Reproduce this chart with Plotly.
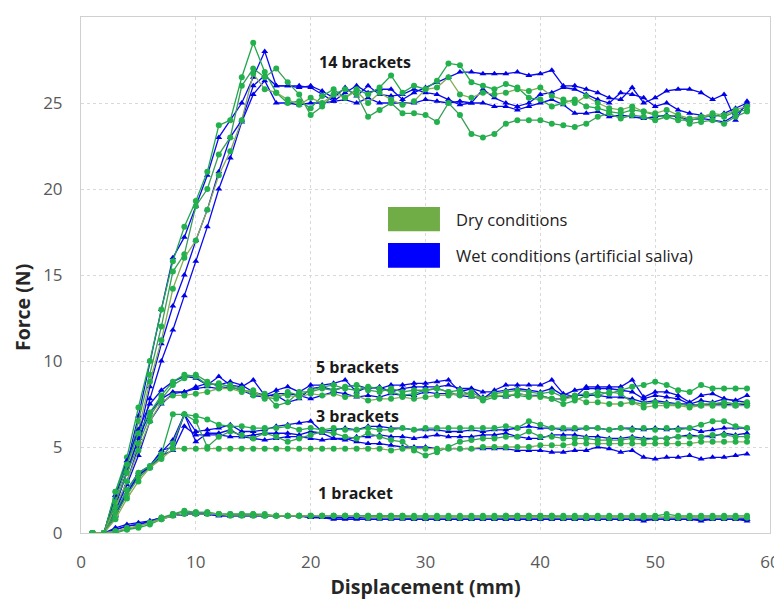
import plotly.graph_objects as go

displacement = list(range(1, 59))

# 14 brackets
dry_14 = [
    [0,0,2.4,4.4,7.3,10.0,13.0,15.8,17.8,19.3,21.0,23.7,24.0,26.5,28.5,26.8,25.6,25.0,25.1,24.7,25.4,25.8,25.3,25.8,25.5,25.9,26.6,25.6,26.0,25.8,26.3,27.3,27.2,26.2,26.0,25.8,26.1,25.9,25.3,25.2,24.8,25.0,25.2,24.8,24.7,24.5,24.4,24.6,24.5,24.3,24.2,24.0,24.0,24.1,24.3,24.2,24.5,24.6],
    [0,0,2.0,3.8,6.5,9.2,12.0,15.2,16.2,19.0,20.0,22.0,23.0,26.0,27.0,26.5,27.0,26.2,25.5,24.3,24.8,25.5,25.8,25.5,24.2,24.6,25.0,24.4,24.4,24.3,23.9,25.0,24.3,23.2,23.0,23.2,23.8,24.0,24.0,24.0,23.8,23.7,23.6,23.8,24.2,24.4,24.1,24.3,24.2,24.0,24.2,24.3,23.8,23.9,24.0,23.8,24.2,24.5],
    [0,0,1.8,3.5,6.0,8.8,11.2,14.2,16.0,17.0,18.8,20.8,22.2,24.0,26.7,25.8,25.6,25.2,24.9,25.3,25.0,25.5,25.3,25.7,25.0,25.6,25.2,24.9,25.1,25.8,25.9,26.5,25.5,25.3,25.6,25.5,25.6,25.8,25.7,25.9,25.4,25.2,25.0,25.4,25.0,24.7,24.6,24.8,24.5,24.4,24.6,24.3,24.1,24.2,24.4,24.3,24.6,24.8],
]
wet_14 = [
    [0,0,2.2,4.0,6.8,10.0,13.0,16.0,17.2,19.0,20.8,23.0,24.0,25.0,26.5,28.0,26.0,26.0,26.0,25.9,25.5,25.1,25.6,26.0,25.6,25.8,25.8,25.2,25.6,25.9,26.2,26.5,26.8,26.8,26.7,26.7,26.7,26.8,26.6,26.7,26.9,26.0,26.0,25.8,25.6,25.3,25.2,25.9,25.0,25.3,25.7,25.8,25.8,25.6,25.2,25.5,24.0,25.1],
    [0,0,1.6,3.5,5.5,8.5,11.0,13.2,15.0,17.0,18.8,21.0,23.0,24.0,26.0,26.6,26.0,26.0,25.9,26.0,25.7,25.3,25.9,25.4,26.0,25.5,25.4,25.5,25.8,25.6,25.5,25.2,24.9,25.0,25.8,25.3,25.0,24.8,25.0,25.5,25.6,25.9,25.8,25.5,25.2,25.0,25.6,25.5,25.3,24.8,25.0,24.6,24.4,24.3,24.2,24.4,24.7,25.0],
    [0,0,1.4,3.0,5.0,7.8,10.0,11.8,13.8,15.8,17.8,20.0,21.8,23.9,25.5,26.3,25.0,25.0,24.9,25.0,25.0,25.1,25.2,25.0,25.3,25.0,25.0,25.0,25.0,25.2,25.1,25.0,25.1,25.0,25.0,24.8,24.8,24.6,24.8,25.0,25.2,24.9,24.4,24.4,24.5,24.2,24.3,24.2,24.1,24.2,24.3,24.2,24.0,24.1,24.0,23.9,24.3,24.9],
]

# 5 brackets
dry_5 = [
    [0,0,2.4,4.0,5.8,7.0,8.0,8.8,9.2,9.1,8.6,8.7,8.5,8.3,8.2,7.9,7.8,8.2,8.0,8.3,8.5,8.6,8.4,8.3,8.5,8.4,8.2,8.0,8.1,8.3,8.4,8.2,8.3,8.0,7.7,7.9,8.0,8.0,7.9,8.0,7.8,7.5,7.7,8.0,8.2,8.1,8.3,8.5,8.6,8.8,8.6,8.3,8.2,8.6,8.4,8.4,8.4,8.4],
    [0,0,1.8,3.5,5.2,6.8,7.8,8.6,9.0,9.2,8.8,8.5,8.6,8.4,8.0,8.1,7.4,7.6,8.2,8.2,8.4,8.3,8.5,8.6,8.3,8.2,8.4,8.2,8.3,8.3,8.4,8.2,8.0,8.2,7.8,8.1,8.2,8.3,8.2,8.1,8.2,7.9,8.0,8.1,8.0,8.2,8.1,7.6,7.5,7.6,7.5,7.5,7.4,7.5,7.5,7.6,7.5,7.6],
    [0,0,1.5,3.0,4.8,6.5,7.6,8.0,8.0,8.1,8.2,8.4,8.4,8.2,8.3,7.8,8.0,8.0,7.9,8.1,8.0,8.1,7.9,8.0,7.7,7.8,7.8,7.9,7.8,7.9,8.0,8.0,8.1,8.0,7.8,8.0,8.0,8.1,8.0,7.9,7.8,7.8,7.9,7.6,7.6,7.5,7.5,7.6,7.3,7.4,7.4,7.4,7.3,7.4,7.4,7.4,7.4,7.4],
]
wet_5 = [
    [0,0,2.2,4.2,6.0,7.5,8.3,8.8,9.1,9.0,8.6,9.1,8.6,8.5,8.9,8.0,8.3,8.5,8.2,8.6,8.6,8.7,8.9,8.2,8.5,8.4,8.6,8.6,8.7,8.7,8.8,8.9,8.2,8.4,7.8,8.3,8.6,8.6,8.6,8.6,8.9,8.1,7.9,8.5,8.5,8.5,8.5,8.9,7.9,8.2,8.2,8.0,7.6,8.0,8.1,7.8,7.7,8.0],
    [0,0,1.6,3.5,5.5,7.0,7.8,8.2,8.2,8.5,8.7,8.6,8.8,8.6,8.2,8.0,8.0,7.6,7.8,8.4,8.5,8.3,8.5,8.6,8.4,8.5,8.2,8.4,8.5,8.5,8.5,8.6,8.4,8.4,8.2,8.2,8.3,8.4,8.3,8.2,8.4,8.0,8.3,8.4,8.4,8.4,8.3,8.2,7.8,8.0,7.9,7.8,7.5,7.7,7.6,7.8,7.7,7.6],
    [0,0,1.3,2.8,4.5,6.5,7.5,8.1,8.2,8.4,8.5,8.4,8.5,8.3,8.0,7.9,8.1,8.1,8.0,7.8,8.0,8.2,8.1,7.9,8.0,7.9,8.1,8.0,8.0,8.2,8.1,8.1,8.0,7.9,7.9,8.0,7.9,8.1,8.0,8.0,7.8,7.8,8.0,8.0,8.0,7.9,7.9,7.8,7.6,7.7,7.6,7.5,7.5,7.4,7.5,7.5,7.4,7.5],
]

# 3 brackets
dry_3 = [
    [0,0,1.2,2.5,3.5,3.9,4.6,6.9,6.9,6.8,6.6,6.3,6.2,6.2,6.1,6.1,6.1,6.2,6.0,6.1,6.0,6.1,6.0,6.0,6.1,6.0,6.0,6.1,6.0,6.1,6.1,6.1,6.1,6.1,6.1,6.1,6.2,6.1,6.5,6.3,6.1,6.1,6.1,6.1,6.1,6.0,6.1,6.0,6.1,6.0,6.1,6.0,6.1,6.3,6.5,6.5,6.2,6.1],
    [0,0,1.0,2.2,3.2,3.8,4.4,5.2,6.9,6.5,5.0,5.6,5.9,5.7,5.5,5.8,5.6,5.3,5.5,5.7,5.9,5.8,5.6,5.5,5.8,5.6,5.4,5.3,4.8,4.5,4.7,5.0,5.3,5.4,5.5,5.5,5.6,5.6,5.9,5.6,5.6,5.5,5.5,5.5,5.4,5.4,5.4,5.5,5.4,5.5,5.5,5.6,5.6,5.6,5.7,5.7,5.6,5.6],
    [0,0,0.8,2.0,3.0,3.8,4.3,4.9,4.9,4.9,4.9,4.9,4.9,4.9,4.9,4.9,4.9,4.9,4.9,4.9,4.9,4.9,4.9,4.9,4.9,4.9,4.8,4.9,4.9,4.9,4.9,4.9,4.9,4.9,5.0,5.0,5.0,5.0,5.0,5.1,5.1,5.1,5.2,5.2,5.2,5.2,5.2,5.2,5.2,5.2,5.2,5.2,5.2,5.3,5.3,5.3,5.3,5.3],
]
wet_3 = [
    [0,0,1.0,2.3,3.3,3.9,4.7,5.4,6.9,5.9,6.0,6.1,6.3,5.9,5.9,6.0,6.2,6.3,6.4,6.5,5.9,6.0,6.1,6.0,6.2,6.2,6.1,6.1,6.0,6.0,6.0,5.9,5.9,6.0,5.9,6.0,6.0,6.1,6.2,6.1,6.1,6.0,6.0,6.1,6.1,6.0,6.1,6.1,6.0,6.1,6.0,6.1,6.1,5.9,6.0,6.1,6.1,6.1],
    [0,0,1.1,2.5,3.5,3.9,4.8,5.0,6.9,5.3,5.8,5.8,6.0,5.6,5.7,5.8,5.8,5.8,5.7,5.9,5.8,5.5,5.4,5.6,5.6,5.7,5.6,5.6,5.5,5.6,5.7,5.6,5.6,5.6,5.7,5.7,5.8,5.6,5.5,5.5,5.7,5.7,5.7,5.6,5.6,5.5,5.5,5.6,5.5,5.5,5.5,5.6,5.7,5.6,5.6,5.8,5.7,5.8],
    [0,0,1.0,2.3,3.4,3.8,4.5,4.8,6.2,5.7,5.7,5.7,5.6,5.6,5.5,5.4,5.5,5.6,5.6,5.5,5.4,5.5,5.5,5.3,5.2,5.2,5.1,5.0,5.0,5.0,4.9,4.9,4.9,4.9,4.9,4.9,4.9,4.8,4.8,4.8,4.7,4.7,4.8,4.8,5.0,4.9,4.7,4.8,4.4,4.3,4.4,4.4,4.5,4.3,4.4,4.4,4.5,4.6],
]

# 1 bracket
dry_1 = [
    [0,0,0.1,0.2,0.3,0.5,0.8,1.1,1.2,1.2,1.2,1.1,1.1,1.1,1.1,1.0,1.0,1.0,1.0,1.0,1.0,1.0,1.0,1.0,1.0,1.0,1.0,1.0,1.0,1.0,1.0,1.0,1.0,1.0,1.0,1.0,1.0,1.0,1.0,1.0,1.0,1.0,1.0,1.0,1.0,1.0,1.0,1.0,1.0,1.0,1.1,1.0,1.0,1.0,1.0,1.0,1.0,1.0],
    [0,0,0.0,0.2,0.4,0.6,0.9,1.1,1.3,1.2,1.2,1.1,1.1,1.1,1.1,1.1,1.0,1.0,1.0,1.0,1.0,1.0,1.0,1.0,1.0,1.0,1.0,1.0,0.9,0.9,0.9,0.9,0.9,0.9,0.9,0.9,1.0,1.0,1.0,1.0,1.0,0.9,0.9,0.9,0.9,0.9,0.9,0.9,0.9,0.9,0.9,0.9,0.9,0.9,0.9,0.9,0.9,0.9],
    [0,0,0.1,0.3,0.4,0.6,0.8,1.0,1.1,1.1,1.1,1.1,1.0,1.0,1.0,1.0,1.0,1.0,1.0,1.0,1.0,1.0,1.0,1.0,0.9,0.9,0.9,0.9,0.9,0.9,0.9,0.9,0.9,0.9,0.9,0.9,0.9,0.9,0.9,0.9,0.9,0.9,0.9,0.9,0.9,0.9,0.9,0.9,0.9,0.9,0.9,0.9,0.9,0.9,0.9,0.9,0.9,0.9],
]
wet_1 = [
    [0,0,0.3,0.5,0.6,0.7,0.9,1.0,1.1,1.1,1.1,1.1,1.0,1.0,1.0,1.0,1.0,1.0,1.0,0.9,0.9,0.8,0.8,0.8,0.8,0.8,0.8,0.8,0.8,0.8,0.8,0.8,0.8,0.8,0.8,0.8,0.8,0.8,0.8,0.8,0.8,0.8,0.8,0.8,0.8,0.8,0.8,0.8,0.8,0.8,0.8,0.8,0.8,0.8,0.8,0.8,0.8,0.8],
    [0,0,0.2,0.4,0.5,0.7,0.9,1.0,1.1,1.1,1.1,1.0,1.0,1.0,1.0,1.0,1.0,1.0,1.0,0.9,0.9,0.9,0.9,0.9,0.9,0.9,0.9,0.9,0.8,0.8,0.8,0.8,0.8,0.8,0.8,0.8,0.8,0.8,0.8,0.8,0.8,0.8,0.8,0.8,0.8,0.8,0.8,0.8,0.7,0.8,0.8,0.8,0.8,0.7,0.8,0.8,0.8,0.7],
    [0,0,0.2,0.4,0.5,0.6,0.8,1.0,1.1,1.1,1.1,1.0,1.0,1.0,1.0,1.0,1.0,1.0,1.0,1.0,0.9,0.9,0.9,0.9,0.9,0.9,0.9,0.9,0.9,0.9,0.9,0.9,0.9,0.9,0.9,0.9,0.9,0.9,0.9,0.9,0.9,0.9,0.9,0.9,0.9,0.9,0.9,0.9,0.9,0.9,0.9,0.9,0.9,0.9,0.9,0.9,0.9,0.8],
]

group_labels = ["14 brackets", "5 brackets", "3 brackets", "1 bracket"]
label_x = [24.7, 24.1, 24.1, 23.9]
label_y = [27.4, 9.65, 6.8, 2.3]
legend_labels = ["Dry conditions", "Wet conditions (artificial saliva)"]

x_ticks = [0, 10, 20, 30, 40, 50, 60]
y_ticks = [0, 5, 10, 15, 20, 25, 30]

FONT = "Open Sans"
green_lines = ["#1fa84b", "#3a9c55", "#86ad55"]
green_marker = "#22b14c"
blue_line = "#0a0af0"
blue_marker = "#0000e6"

fig = go.Figure()

for dry_group, wet_group in [(dry_14, wet_14), (dry_5, wet_5), (dry_3, wet_3), (dry_1, wet_1)]:
    for i, ys in enumerate(wet_group):
        fig.add_trace(go.Scatter(
            x=displacement, y=ys, mode="lines+markers",
            line=dict(color=blue_line, width=1.3),
            marker=dict(symbol="triangle-up", size=6, color=blue_marker),
            showlegend=False, hoverinfo="skip"))
    for i, ys in enumerate(dry_group):
        fig.add_trace(go.Scatter(
            x=displacement, y=ys, mode="lines+markers",
            line=dict(color=green_lines[i % 3], width=1.3),
            marker=dict(symbol="circle", size=6, color=green_marker),
            showlegend=False, hoverinfo="skip"))

for t, lx, ly in zip(group_labels, label_x, label_y):
    fig.add_annotation(x=lx, y=ly, text="<b>" + t + "</b>", showarrow=False,
                       font=dict(family=FONT, size=16, color="#1a1a1a"))

# custom legend
legend_colors = ["#70ad47", "#0000ff"]
legend_y = [(0.585, 0.632), (0.514, 0.562)]
for lab, col, (y0, y1) in zip(legend_labels, legend_colors, legend_y):
    fig.add_shape(type="rect", xref="paper", yref="paper", x0=0.4456, x1=0.521,
                  y0=y0, y1=y1, fillcolor=col, line=dict(width=0))
    fig.add_annotation(xref="paper", yref="paper", x=0.541, y=(y0 + y1) / 2,
                       text=lab, showarrow=False, xanchor="left", yanchor="middle",
                       font=dict(family=FONT, size=16.5, color="#222222"))

# y-axis title (placed as rotated text, slightly below the plot's middle as in the original)
fig.add_annotation(xref="paper", yref="paper", x=-0.0856, y=0.436, textangle=-90,
                   xanchor="center", yanchor="middle",
                   text="<b>Force (N)</b>", showarrow=False,
                   font=dict(family=FONT, size=19.5, color="#262626"))

# the page body adds an 8px offset, so the figure is sized to fit the 782x604 window
fig.update_layout(
    width=774, height=596,
    margin=dict(l=73, r=12, t=9, b=71, autoexpand=False),
    paper_bgcolor="white", plot_bgcolor="white",
    font=dict(family=FONT),
    showlegend=False,
)
fig.update_xaxes(
    range=[0, 60], tickvals=x_ticks, showgrid=True, gridcolor="#d9d9d9", griddash="dot",
    showline=True, linecolor="#d0d0d0", mirror=True, zeroline=False, automargin=False,
    tickfont=dict(family=FONT, size=17, color="#595959"), ticklabelstandoff=14,
    title=dict(text="<b>Displacement (mm)</b>", font=dict(family=FONT, size=19.5, color="#262626"), standoff=4),
)
fig.update_yaxes(
    range=[0, 30], tickvals=y_ticks, showgrid=True, gridcolor="#d9d9d9", griddash="dot",
    showline=True, linecolor="#d0d0d0", mirror=True, zeroline=False, automargin=False,
    tickfont=dict(family=FONT, size=17, color="#595959"), ticklabelstandoff=14,
)

fig.write_html("out.html")
